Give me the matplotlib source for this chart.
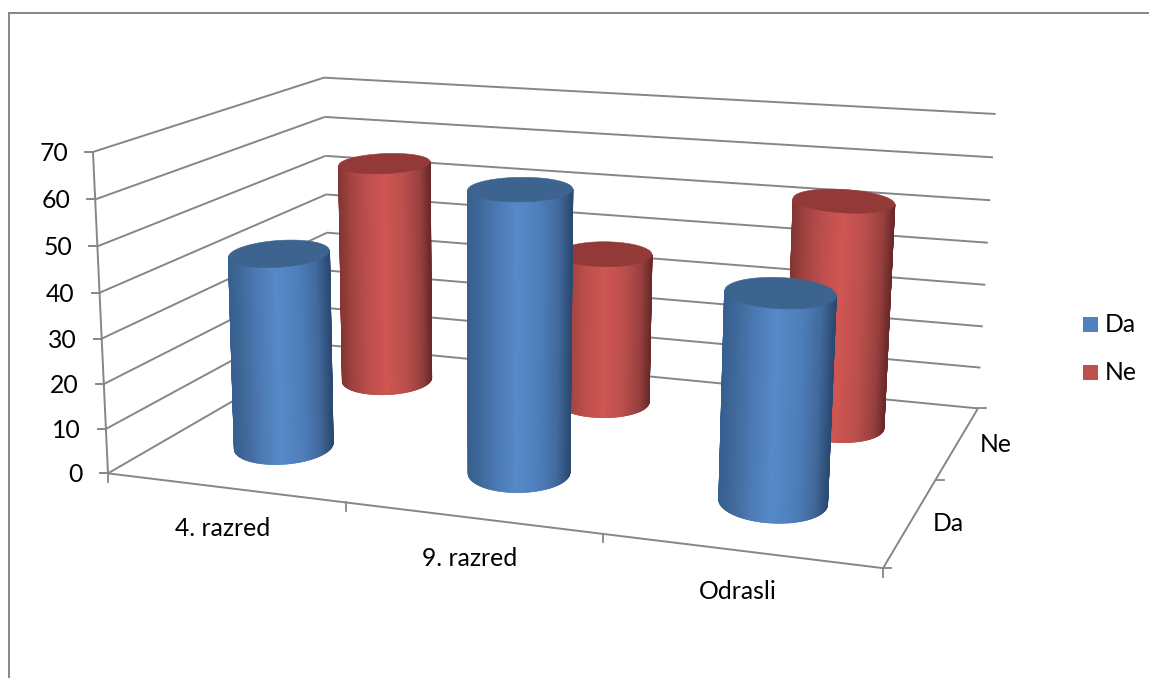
import numpy as np
import matplotlib
matplotlib.use("Agg")
import matplotlib.pyplot as plt
from matplotlib.collections import LineCollection
from matplotlib.colors import LinearSegmentedColormap
from matplotlib.patches import Polygon, Rectangle

categories = ["4. razred", "9. razred", "Odrasli"]
series_names = ["Da", "Ne"]
da_values = [44, 62, 44.5]
ne_values = [54, 36, 52.5]
z_ticks = [0, 10, 20, 30, 40, 50, 60, 70]
z_max = 70

GRID = "#868686"
plt.rcParams["font.family"] = ["Lato", "DejaVu Sans"]
FS = 17.8

# camera: box corners (x, depth, z) -> pixel, solved as a 3x4 projective matrix
box_pts = [
    ((0, 0, 0), (109, 472)), ((0, 0, 70), (92, 152)),
    ((0, 1, 0), (328, 347)), ((0, 1, 70), (325, 77)),
    ((1, 1, 0), (978, 407)), ((1, 1, 70), (995, 115)),
    ((1, 0, 0), (883, 569)), ((1 / 3, 0, 0), (346, 502)),
    ((2 / 3, 0, 0), (603, 535)), ((1, 1, 30), (986, 284)),
]
A = []
b = []
for (X, Y, Z), (u, v) in box_pts:
    A.append([X, Y, Z, 1, 0, 0, 0, 0, -u * X, -u * Y, -u * Z])
    b.append(u)
    A.append([0, 0, 0, 0, X, Y, Z, 1, -v * X, -v * Y, -v * Z])
    b.append(v)
P = np.linalg.lstsq(np.array(A, float), np.array(b, float), rcond=None)[0]
P = np.append(P, 1).reshape(3, 4)


def project(x, y, z):
    x, y, z = np.broadcast_arrays(x, y, z)
    pts = np.stack([x, y, z, np.ones_like(x, dtype=float)])
    w = P @ pts.reshape(4, -1)
    return (w[0] / w[2]).reshape(x.shape), (w[1] / w[2]).reshape(x.shape)


def line3d(ax, p0, p1, lw=1.4):
    a = project(*p0)
    c = project(*p1)
    ax.plot([a[0], c[0]], [a[1], c[1]], color=GRID, lw=lw, solid_capstyle="butt", zorder=1)


blue = LinearSegmentedColormap.from_list("blue", [
    (0, "#36608f"), (0.12, "#41699b"), (0.3, "#4d7cb6"), (0.47, "#568ac9"),
    (0.7, "#4e7fbb"), (0.88, "#41699c"), (1, "#2a4a72")])
red = LinearSegmentedColormap.from_list("red", [
    (0, "#843634"), (0.12, "#a04341"), (0.3, "#bd4f4d"), (0.5, "#cf5653"),
    (0.72, "#bb4f4c"), (0.9, "#96403e"), (1, "#6b2a29")])

RX = 0.0685
RY = 0.125
TILT = 2.2e-4
DEPTH = [0.27, 0.78]
XOFF = [-0.006, -0.005]
phi = np.linspace(np.pi, 2 * np.pi, 100)
full = np.linspace(0, 2 * np.pi, 200)


def disc(cx, cy, z, angle):
    # screen ellipse of a round section, sized from its projected extents
    x0, y0 = project(cx, cy, z)
    a = (project(cx + RX, cy, z)[0] - project(cx - RX, cy, z)[0]) / 2
    a = a * (1 + 0.0002 * max(574.5 - float(x0), 0))  # left side of the box is foreshortened too much
    h = (project(cx, cy - RY, z)[1] - project(cx, cy + RY, z)[1]) / 2
    dx = a * np.cos(angle)
    return x0 + dx, y0 - h * np.sin(angle) + TILT * (x0 - 574.5) * dx


def cylinder(ax, cx, cy, value, cmap, top_color, zorder):
    abx, aby = disc(cx, cy, 0.0, phi)
    atx, aty = disc(cx, cy, float(value), phi)
    tx, ty = disc(cx, cy, float(value), full)
    shade = (abx - abx[0]) / (abx[-1] - abx[0])

    # side wall as one smooth mesh
    ax.pcolormesh(np.vstack([abx, atx]), np.vstack([aby, aty]), np.vstack([shade, shade]),
                  shading="gouraud", cmap=cmap, vmin=0, vmax=1, zorder=zorder)
    # thin strokes keep the outline from looking jagged
    ax.plot([abx[0], atx[0]], [aby[0], aty[0]], color=cmap(0.0), lw=0.8, zorder=zorder)
    ax.plot([abx[-1], atx[-1]], [aby[-1], aty[-1]], color=cmap(1.0), lw=0.8, zorder=zorder)
    segs = np.stack([np.column_stack([abx[:-1], aby[:-1]]), np.column_stack([abx[1:], aby[1:]])], axis=1)
    ax.add_collection(LineCollection(segs, colors=cmap(0.5 * (shade[:-1] + shade[1:])), lw=0.8, zorder=zorder))
    ax.add_patch(Polygon(np.column_stack([tx, ty]), closed=True, fc=top_color, ec=top_color,
                         lw=0.4, zorder=zorder + 0.5))


fig = plt.figure(figsize=(11.49, 6.78), dpi=100)
ax = fig.add_axes([0, 0, 1, 1])
ax.axis("off")

# outer chart border, only top and left are inside the frame
ax.plot([8.5, 8.5, 1149], [678, 13, 13], color=GRID, lw=1.4, solid_joinstyle="miter")

# walls
for z in z_ticks:
    line3d(ax, (0, 0, z), (0, 1, z))
    line3d(ax, (0, 1, z), (1, 1, z))
    x0, y0 = project(0, 0, z)
    ax.plot([x0 - 8, x0], [y0, y0], color=GRID, lw=1.4, zorder=1)
    ax.text(x0 - 25, y0 + 1.5, str(z), ha="right", va="center", fontsize=FS, color="black")

line3d(ax, (0, 0, 0), (0, 0, z_max))
line3d(ax, (0, 0, 0), (1, 0, 0))
line3d(ax, (1, 0, 0), (1, 1, 0))

# category ticks and labels
n = len(categories)
for i in range(n + 1):
    x0, y0 = project(i / n, 0, 0)
    ax.plot([x0, x0], [y0, y0 + 8.5], color=GRID, lw=1.3, zorder=1)
for i, name in enumerate(categories):
    x0, y0 = project((i + 0.5) / n, 0, 0)
    ax.text(x0 - 2, y0 + 41, name, ha="center", va="center", fontsize=FS, color="black")

# depth ticks and labels
for j in range(len(series_names) + 1):
    x0, y0 = project(1, j / len(series_names), 0)
    ax.plot([x0, x0 + 8], [y0, y0], color=GRID, lw=1.3, zorder=1)
for j, name in enumerate(series_names):
    x0, y0 = project(1, (j + 0.5) / len(series_names), 0)
    ax.text(x0 + 38, y0 + 2, name, ha="center", va="center", fontsize=FS, color="black")

# back row first so the front row covers it
for i, v in enumerate(ne_values):
    cylinder(ax, (i + 0.5) / n + XOFF[1], DEPTH[1], v, red, "#933a38", 3)
for i, v in enumerate(da_values):
    cylinder(ax, (i + 0.5) / n + XOFF[0], DEPTH[0], v, blue, "#3d648f", 5)

# legend
for name, col, ytop in zip(series_names, ["#4f81bd", "#c0504d"], [317, 365]):
    ax.add_patch(Rectangle((1083, ytop), 15, 15, fc=col, ec="none"))
    ax.text(1105, ytop + 7.5, name, ha="left", va="center", fontsize=FS, color="black")

ax.set_xlim(0, 1149)
ax.set_ylim(678, 0)
fig.savefig("out.png", dpi=100)
